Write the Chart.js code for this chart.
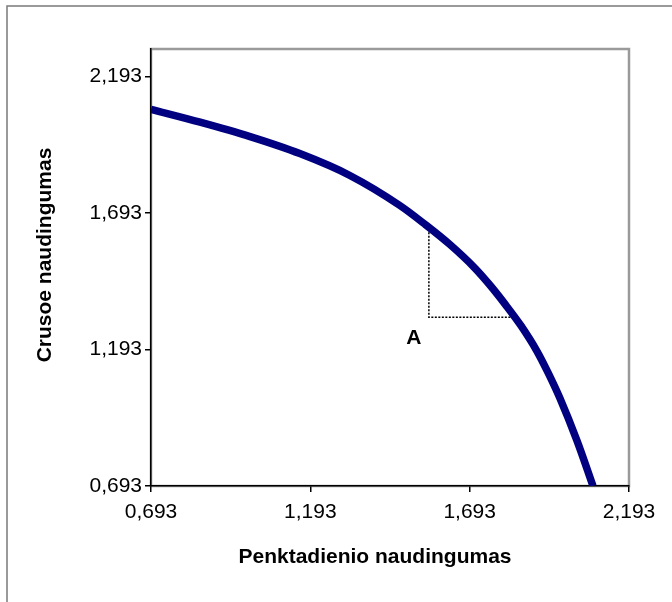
<!DOCTYPE html>
<html>
<head>
<meta charset="utf-8">
<script src="https://cdn.jsdelivr.net/npm/chart.js@4.4.1/dist/chart.umd.min.js"></script>
<style>
  body { margin: 0; background: #fff; }
</style>
</head>
<body>
<canvas id="myChart" width="672" height="602"></canvas>
<script>
// frontier
const curveX = [0.693, 0.847, 1.004, 1.160, 1.317, 1.474, 1.553, 1.631, 1.710, 1.757, 1.804, 1.854, 1.904, 1.939, 1.976, 2.030, 2.080];
const curveY = [2.072, 2.025, 1.972, 1.910, 1.830, 1.720, 1.651, 1.577, 1.490, 1.428, 1.359, 1.280, 1.187, 1.108, 1.015, 0.858, 0.693];

// dotted guide under point A
const guideX = [1.565, 1.565, 1.840];
const guideY = [1.648, 1.311, 1.311];

const xTicks = [0.693, 1.193, 1.693, 2.193];
const yTicks = [0.693, 1.193, 1.693, 2.193];

const xTitle = "Penktadienio naudingumas";
const yTitle = "Crusoe naudingumas";
const markText = "A";
const markAt = [1.518, 1.234];

const FONT = "Arial, 'Liberation Sans', sans-serif";

function pairs(xs, ys) {
  return xs.map((x, i) => ({ x: x, y: ys[i] }));
}

function fmt(v) {
  return Number(v).toFixed(3).replace(".", ",");
}

const decor = {
  id: "decor",
  beforeDraw(chart) {
    const c = chart.ctx;
    const a = chart.chartArea;
    c.save();
    c.fillStyle = "#fff";
    c.fillRect(0, 0, chart.width, chart.height);
    c.strokeStyle = "#7a7a7a";
    c.lineWidth = 1.5;
    c.strokeRect(7, 6, 900, 900);
    c.strokeStyle = "#9a9a9a";
    c.lineWidth = 2.5;
    c.strokeRect(a.left, a.top, a.right - a.left, a.bottom - a.top);
    c.restore();
  },
  afterDraw(chart) {
    const c = chart.ctx;
    const x = chart.scales.x;
    const y = chart.scales.y;
    c.save();
    c.fillStyle = "#000";
    c.font = "bold 21px " + FONT;
    c.textAlign = "center";
    c.textBaseline = "middle";
    c.fillText(markText, x.getPixelForValue(markAt[0]), y.getPixelForValue(markAt[1]));
    c.fillText(xTitle, 375, 557);
    c.translate(45, 255);
    c.rotate(-Math.PI / 2);
    c.fillText(yTitle, 0, 0);
    c.restore();
  },
};

const ctx = document.getElementById("myChart").getContext("2d");
const myChart = new Chart(ctx, {
  type: "scatter",
  data: {
    datasets: [
      {
        data: pairs(curveX, curveY),
        showLine: true,
        borderColor: "#000080",
        borderWidth: 7.5,
        pointRadius: 0,
        cubicInterpolationMode: "monotone",
        borderCapStyle: "butt",
      },
      {
        data: pairs(guideX, guideY),
        showLine: true,
        borderColor: "#000",
        borderWidth: 1.5,
        borderDash: [2, 1.5],
        pointRadius: 0,
        tension: 0,
      },
    ],
  },
  options: {
    responsive: false,
    animation: false,
    devicePixelRatio: 1,
    layout: {
      padding: { top: 49, right: 43, left: 0, bottom: 0 },
    },
    plugins: {
      legend: { display: false },
      tooltip: { enabled: false },
    },
    scales: {
      x: {
        type: "linear",
        min: 0.693,
        max: 2.193,
        afterBuildTicks: (s) => {
          s.ticks = xTicks.map((v) => ({ value: v }));
        },
        afterFit: (s) => {
          s.height = 116;
        },
        grid: { drawOnChartArea: false, drawTicks: true, tickLength: 6, color: "#000", lineWidth: 1.5 },
        border: { color: "#000", width: 1.5 },
        ticks: {
          color: "#000",
          padding: 8,
          maxRotation: 0,
          font: { family: FONT, size: 21 },
          callback: (v) => fmt(v),
        },
      },
      y: {
        type: "linear",
        min: 0.693,
        max: 2.293,
        afterBuildTicks: (s) => {
          s.ticks = yTicks.map((v) => ({ value: v }));
        },
        afterFit: (s) => {
          s.width = 151;
        },
        grid: { drawOnChartArea: false, drawTicks: true, tickLength: 6, color: "#000", lineWidth: 1.5 },
        border: { color: "#000", width: 1.5 },
        ticks: {
          color: "#000",
          padding: 3,
          font: { family: FONT, size: 21 },
          callback: (v) => fmt(v),
        },
      },
    },
  },
  plugins: [decor],
});
</script>
</body>
</html>
